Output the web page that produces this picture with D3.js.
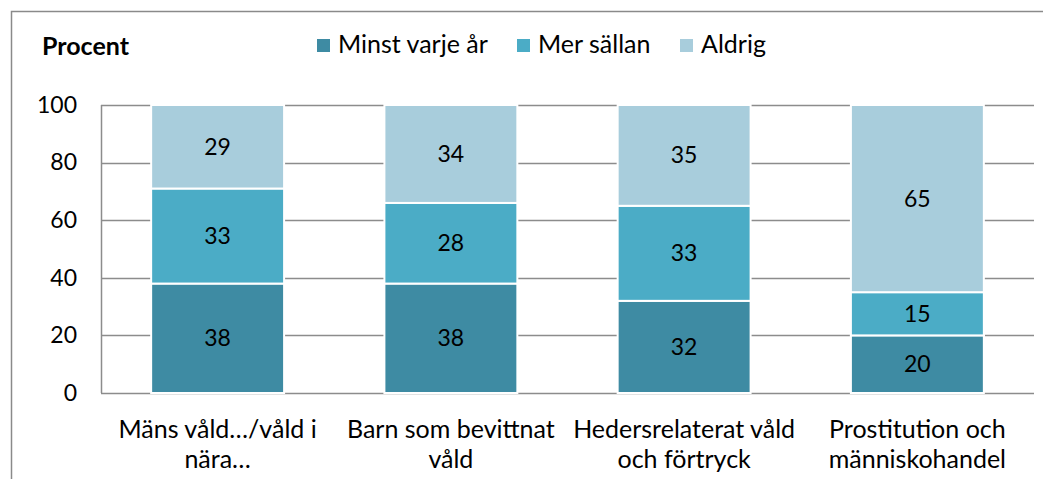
<!DOCTYPE html>
<html>
<head>
<meta charset="utf-8">
<script src="https://cdn.jsdelivr.net/npm/d3@7"></script>
<style>
  body { margin: 0; background: #fff; }
  text { font-family: Lato, "Open Sans", sans-serif; fill: #000; }
</style>
</head>
<body>
<svg class="viz" width="1043" height="479"></svg>
<script>
// data
var categories = [["Mäns våld…/våld i", "nära…"], ["Barn som bevittnat", "våld"], ["Hedersrelaterat våld", "och förtryck"], ["Prostitution och", "människohandel"]];
var seriesNames = ["Minst varje år", "Mer sällan", "Aldrig"];
var minstVarjeAr = [38, 38, 32, 20];
var merSallan = [33, 28, 33, 15];
var aldrig = [29, 34, 35, 65];
var yTicks = [0, 20, 40, 60, 80, 100];

var colors = ["#3E8BA3", "#4BACC6", "#A8CDDC"];

var svg = d3.select(".viz"),
    margin = {top: 105, right: 9, bottom: 86, left: 101},
    width = 1043 - margin.left - margin.right,
    height = 479 - margin.top - margin.bottom;

// outer frame
svg.append("rect")
  .attr("x", 11.5).attr("y", 11.5)
  .attr("width", 1100).attr("height", 600)
  .attr("fill", "none").attr("stroke", "#8a8a8a").attr("stroke-width", 1.5);

var rows = categories.map(function (c, i) {
  return {cat: i, minst: minstVarjeAr[i], mer: merSallan[i], aldrig: aldrig[i]};
});
var stack = d3.stack().keys(["minst", "mer", "aldrig"])(rows);

var xScale = d3.scaleBand()
  .domain(d3.range(categories.length))
  .range([margin.left, margin.left + width])
  .paddingInner(0.43).paddingOuter(0.215);

var yScale = d3.scaleLinear()
  .domain([0, 100])
  .range([margin.top + height, margin.top]);

// gridlines
svg.append("g").selectAll("line")
  .data(yTicks)
  .enter()
  .append("line")
    .attr("x1", margin.left)
    .attr("x2", margin.left + width)
    .attr("y1", function (d) { return Math.round(yScale(d)) + 0.5; })
    .attr("y2", function (d) { return Math.round(yScale(d)) + 0.5; })
    .style("stroke", "#8c8c8c")
    .style("stroke-width", "1.5px");

// left axis line
svg.append("line")
  .attr("x1", margin.left + 0.5).attr("x2", margin.left + 0.5)
  .attr("y1", yScale(100)).attr("y2", yScale(0))
  .style("stroke", "#8c8c8c").style("stroke-width", "1.5px");

// y labels
var yAxis = d3.axisLeft(yScale).tickValues(yTicks).tickSize(0).tickPadding(24);
var yg = svg.append("g")
  .attr("transform", "translate(" + margin.left + ",0)")
  .call(yAxis);
yg.select(".domain").remove();
yg.selectAll("text")
  .style("font-family", "Lato, sans-serif")
  .style("font-size", "23px")
  .attr("fill", "#000");

// bars
var layers = svg.selectAll(".layer")
  .data(stack)
  .enter()
  .append("g")
    .attr("fill", function (d, i) { return colors[i]; });

layers.selectAll("rect")
  .data(function (d) { return d; })
  .enter()
  .append("rect")
    .attr("x", function (d, i) { return xScale(i); })
    .attr("y", function (d) { return yScale(d[1]); })
    .attr("width", xScale.bandwidth())
    .attr("height", function (d) { return yScale(d[0]) - yScale(d[1]); })
    .style("stroke", "#fff")
    .style("stroke-width", "2px");

layers.selectAll("text")
  .data(function (d) { return d; })
  .enter()
  .append("text")
    .attr("x", function (d, i) { return xScale(i) + xScale.bandwidth() / 2; })
    .attr("y", function (d) { return yScale((d[0] + d[1]) / 2); })
    .attr("dy", "0.35em")
    .attr("text-anchor", "middle")
    .attr("font-size", "23px")
    .text(function (d) { return d[1] - d[0]; });

// category labels
var catLabels = svg.append("g").selectAll("text")
  .data(categories)
  .enter()
  .append("text")
    .attr("text-anchor", "middle")
    .attr("font-size", "25px")
    .attr("x", function (d, i) { return xScale(i) + xScale.bandwidth() / 2; })
    .attr("y", 438);
catLabels.selectAll("tspan")
  .data(function (d) { return d; })
  .enter()
  .append("tspan")
    .attr("x", function () { return d3.select(this.parentNode).attr("x"); })
    .attr("dy", function (d, i) { return i === 0 ? 0 : 30; })
    .text(function (d) { return d; });

// title
svg.append("text")
  .attr("x", 42).attr("y", 55)
  .attr("font-size", "25px")
  .attr("font-weight", "bold")
  .text("Procent");

// legend
var legendX = [317, 517, 680];
var legend = svg.selectAll(".legend")
  .data(seriesNames)
  .enter()
  .append("g")
    .attr("transform", function (d, i) { return "translate(" + legendX[i] + ",39)"; });
legend.append("rect")
  .attr("width", 13).attr("height", 13)
  .attr("fill", function (d, i) { return colors[i]; });
legend.append("text")
  .attr("x", 21).attr("y", 14)
  .attr("font-size", "25px")
  .text(function (d) { return d; });
</script>
</body>
</html>
